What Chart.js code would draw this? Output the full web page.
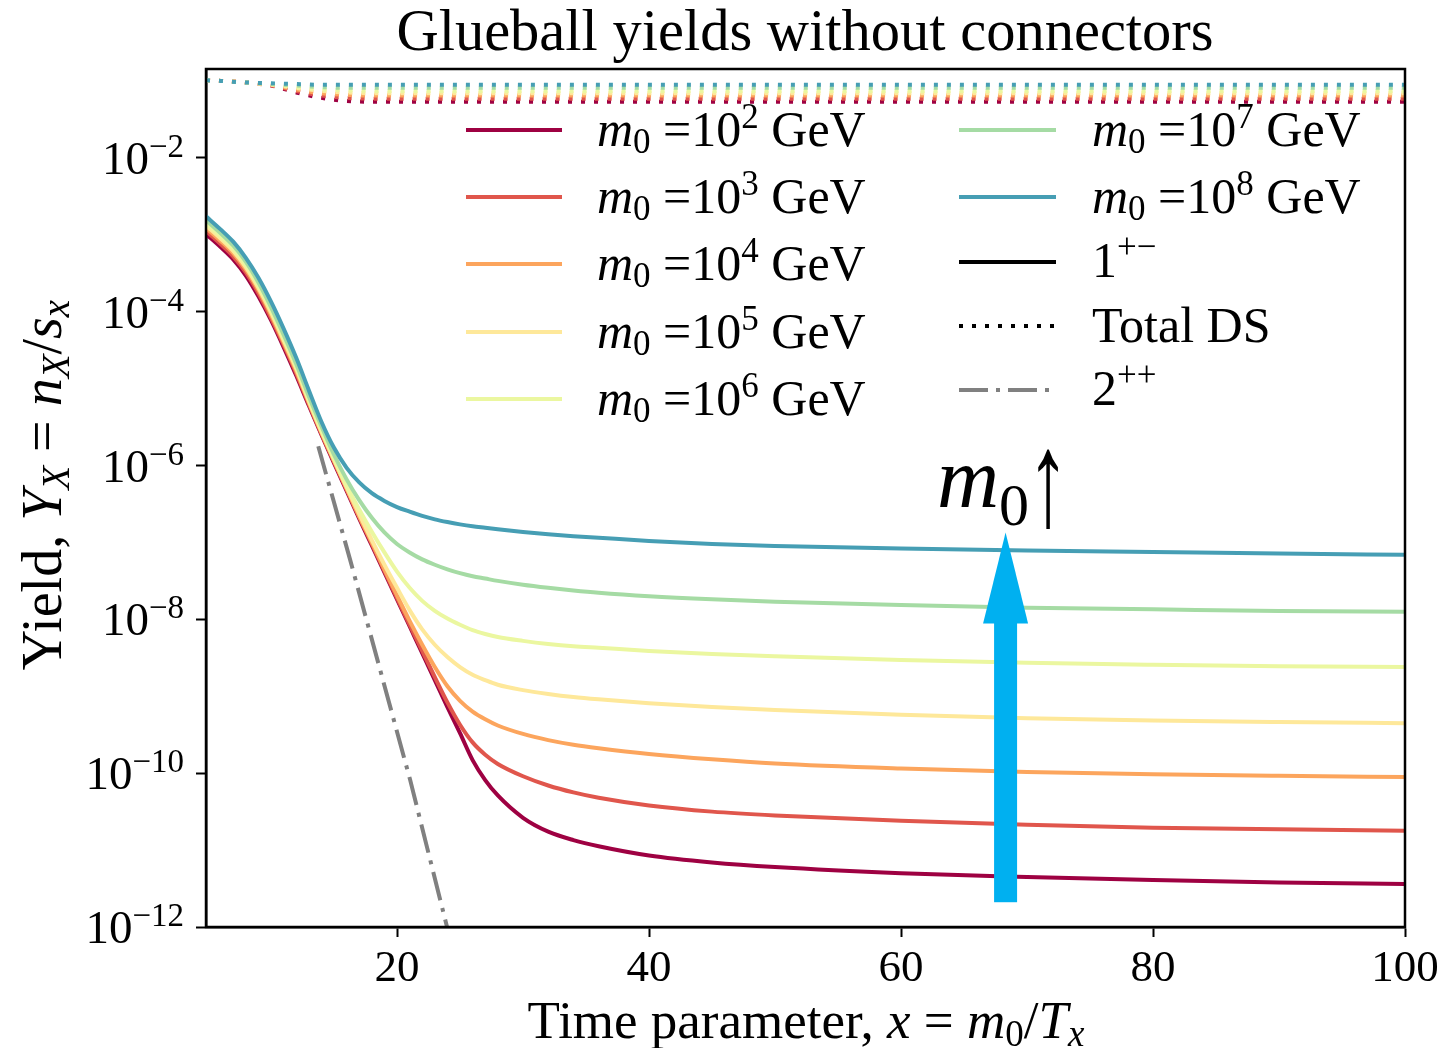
<!DOCTYPE html>
<html>
<head>
<meta charset="utf-8">
<title>Glueball yields without connectors</title>
<script src="https://cdn.jsdelivr.net/npm/chart.js@4.4.1/dist/chart.umd.min.js"></script>
<style>
  html, body { margin: 0; padding: 0; background: #fff; }
  canvas { display: block; }
</style>
</head>
<body>
<canvas id="mycanvas" width="1454" height="1048"></canvas>
<script>
// axis ranges and ticks
var x_min = 4.84, x_max = 100;
var y_min = 1e-12, y_max = 0.143;
var x_ticks = [20, 40, 60, 80, 100];
var y_ticks = [1e-12, 1e-10, 1e-8, 1e-6, 1e-4, 1e-2];
var y_tick_exps = ['\u221212', '\u221210', '\u22128', '\u22126', '\u22124', '\u22122'];

// one entry per glueball mass m0 = 10^n GeV
var m0_exps = ['2', '3', '4', '5', '6', '7', '8'];
var m0_colors = ['#9e0142', '#e0564c', '#fca55d', '#fee89a', '#ebf7a0', '#a5dba4', '#469eb4'];

// x = m0/T_x where the 1+- yields are sampled
var x_vals = [4.84, 6, 7, 8, 9, 10, 11, 12, 13, 14, 15, 16, 17, 18, 19, 20, 21, 22, 23, 24, 25,
              26, 27, 28, 30, 32, 34, 36, 40, 45, 50, 60, 70, 80, 90, 100];

// log10 of the 1+- yield Y_X
var log_y_1e2 = [-2.99, -3.16, -3.32, -3.53, -3.80, -4.11, -4.46, -4.83, -5.22, -5.60, -5.97, -6.33, -6.69, -7.04, -7.39, -7.74, -8.09, -8.44, -8.79, -9.14, -9.48,
                 -9.83, -10.09, -10.29, -10.58, -10.76, -10.87, -10.95, -11.07, -11.16, -11.22, -11.30, -11.35, -11.39, -11.42, -11.44];
var log_y_1e3 = [-2.95, -3.12, -3.28, -3.49, -3.76, -4.08, -4.43, -4.80, -5.20, -5.585, -5.95, -6.31, -6.67, -7.02, -7.37, -7.72, -8.07, -8.41, -8.75, -9.08, -9.37,
                 -9.60, -9.76, -9.88, -10.04, -10.16, -10.25, -10.32, -10.42, -10.50, -10.55, -10.62, -10.67, -10.71, -10.73, -10.75];
var log_y_1e4 = [-2.91, -3.08, -3.24, -3.45, -3.72, -4.04, -4.40, -4.77, -5.18, -5.57, -5.94, -6.30, -6.66, -7.00, -7.35, -7.69, -8.02, -8.33, -8.62, -8.87, -9.06,
                 -9.20, -9.30, -9.38, -9.49, -9.57, -9.63, -9.675, -9.75, -9.82, -9.875, -9.94, -9.985, -10.015, -10.035, -10.05];
var log_y_1e5 = [-2.88, -3.05, -3.21, -3.42, -3.69, -4.01, -4.37, -4.74, -5.16, -5.555, -5.92, -6.28, -6.63, -6.97, -7.29, -7.59, -7.88, -8.13, -8.33, -8.49, -8.62,
                 -8.72, -8.79, -8.85, -8.92, -8.97, -9.01, -9.04, -9.09, -9.14, -9.18, -9.24, -9.285, -9.315, -9.335, -9.35];
var log_y_1e6 = [-2.85, -3.02, -3.18, -3.39, -3.66, -3.98, -4.34, -4.71, -5.14, -5.54, -5.91, -6.26, -6.57, -6.86, -7.13, -7.38, -7.59, -7.76, -7.89, -7.99, -8.07,
                 -8.14, -8.19, -8.23, -8.28, -8.32, -8.35, -8.37, -8.41, -8.45, -8.48, -8.53, -8.565, -8.59, -8.61, -8.62];
var log_y_1e7 = [-2.81, -2.98, -3.14, -3.35, -3.62, -3.94, -4.30, -4.68, -5.10, -5.49, -5.86, -6.18, -6.45, -6.68, -6.87, -7.02, -7.13, -7.22, -7.29, -7.35, -7.40,
                 -7.44, -7.47, -7.50, -7.55, -7.59, -7.625, -7.655, -7.70, -7.74, -7.77, -7.815, -7.85, -7.87, -7.89, -7.90];
var log_y_1e8 = [-2.76, -2.93, -3.09, -3.30, -3.56, -3.87, -4.22, -4.60, -5.02, -5.43, -5.77, -6.03, -6.22, -6.36, -6.46, -6.54, -6.60, -6.655, -6.70, -6.735, -6.765,
                 -6.79, -6.81, -6.83, -6.865, -6.895, -6.92, -6.94, -6.98, -7.02, -7.045, -7.08, -7.105, -7.125, -7.145, -7.16];

// total dark sector yield (dotted)
var x_total = [4.84, 6, 8, 10, 12, 14, 16, 18, 20, 30, 40, 60, 80, 100];
var log_total_1e2 = [-0.99, -1.00, -1.02, -1.06, -1.15, -1.22, -1.26, -1.27, -1.27, -1.27, -1.27, -1.27, -1.27, -1.27];
var log_total_1e3 = [-0.99, -1.00, -1.02, -1.06, -1.13, -1.19, -1.22, -1.23, -1.23, -1.23, -1.23, -1.23, -1.23, -1.23];
var log_total_1e4 = [-0.99, -1.00, -1.02, -1.05, -1.11, -1.16, -1.18, -1.19, -1.19, -1.19, -1.19, -1.19, -1.19, -1.19];
var log_total_1e5 = [-0.99, -1.00, -1.02, -1.05, -1.09, -1.13, -1.15, -1.16, -1.16, -1.16, -1.16, -1.16, -1.16, -1.16];
var log_total_1e6 = [-0.99, -1.00, -1.02, -1.04, -1.08, -1.11, -1.12, -1.13, -1.13, -1.13, -1.13, -1.13, -1.13, -1.13];
var log_total_1e7 = [-0.99, -1.00, -1.02, -1.04, -1.06, -1.08, -1.09, -1.09, -1.09, -1.09, -1.09, -1.09, -1.09, -1.09];
var log_total_1e8 = [-0.99, -1.00, -1.02, -1.03, -1.04, -1.05, -1.05, -1.05, -1.05, -1.05, -1.05, -1.05, -1.05, -1.05];

// 2++ yield (same for every m0)
var x_2pp = [13.75, 16.27, 21.03, 23.97, 25.0];
var log_y_2pp = [-5.75, -7.22, -10.08, -12.0, -12.7];

// "m0 grows" arrow, in data units
var arrow_x = 68.3, arrow_from = 2.1e-12, arrow_neck = 9.1e-9, arrow_tip = 1.35e-7;

var log_1pm = [log_y_1e2, log_y_1e3, log_y_1e4, log_y_1e5, log_y_1e6, log_y_1e7, log_y_1e8];
var log_total = [log_total_1e2, log_total_1e3, log_total_1e4, log_total_1e5, log_total_1e6, log_total_1e7, log_total_1e8];

var SERIF = "'Liberation Serif', 'DejaVu Serif', serif";

function pts(xs, logs) {
    return xs.map(function (x, i) { return { x: x, y: Math.pow(10, logs[i]) }; });
}

var datasets = [];
for (var i = 0; i < m0_exps.length; i++) {
    datasets.push({
        data: pts(x_vals, log_1pm[i]),
        borderColor: m0_colors[i],
        borderWidth: 4,
        cubicInterpolationMode: 'monotone'
    });
    datasets.push({
        data: pts(x_total, log_total[i]),
        borderColor: m0_colors[i],
        borderWidth: 4,
        borderDash: [4, 9],
        borderCapStyle: 'butt',
        cubicInterpolationMode: 'monotone'
    });
}
datasets.push({
    data: pts(x_2pp, log_y_2pp),
    borderColor: '#808080',
    borderWidth: 4,
    borderDash: [29, 8, 4, 8],
    borderCapStyle: 'butt'
});
// chart.js paints the first dataset last -> flip so heavy m0 ends up on top
datasets.reverse();

// text made of runs: [text, size, italic, dy]
function runsWidth(ctx, runs) {
    var w = 0;
    runs.forEach(function (r) {
        ctx.font = (r[2] ? 'italic ' : '') + r[1] + 'px ' + SERIF;
        w += ctx.measureText(r[0]).width;
    });
    return w;
}
function drawRuns(ctx, x, y, runs, align) {
    var w = runsWidth(ctx, runs);
    var cx = align === 'center' ? x - w / 2 : (align === 'right' ? x - w : x);
    ctx.textAlign = 'left';
    ctx.textBaseline = 'alphabetic';
    runs.forEach(function (r) {
        ctx.font = (r[2] ? 'italic ' : '') + r[1] + 'px ' + SERIF;
        ctx.fillText(r[0], cx, y + (r[3] || 0));
        cx += ctx.measureText(r[0]).width;
    });
}

function legendLine(ctx, x0, x1, y, color, dash) {
    ctx.save();
    ctx.strokeStyle = color;
    ctx.lineWidth = 4;
    ctx.lineCap = 'butt';
    ctx.setLineDash(dash || []);
    ctx.beginPath();
    ctx.moveTo(x0, y);
    ctx.lineTo(x1, y);
    ctx.stroke();
    ctx.restore();
}

var decorations = {
    id: 'decorations',
    afterDatasetsDraw: function (chart) {
        var ctx = chart.ctx, area = chart.chartArea;
        var xs = chart.scales.x, ys = chart.scales.y;
        ctx.save();

        // big blue arrow
        var ax = xs.getPixelForValue(arrow_x);
        var yb = ys.getPixelForValue(arrow_from);
        var yn = ys.getPixelForValue(arrow_neck);
        var yt = ys.getPixelForValue(arrow_tip);
        ctx.fillStyle = '#00b0f0';
        ctx.fillRect(ax - 11.5, yn, 23, yb - yn);
        ctx.beginPath();
        ctx.moveTo(ax - 22.5, yn + 1);
        ctx.lineTo(ax + 22.5, yn + 1);
        ctx.lineTo(ax, yt);
        ctx.closePath();
        ctx.fill();

        // frame
        ctx.strokeStyle = '#000';
        ctx.lineWidth = 2.5;
        ctx.strokeRect(area.left, area.top, area.right - area.left, area.bottom - area.top);

        ctx.fillStyle = '#000';
        // y tick labels 10^n
        y_ticks.forEach(function (v, k) {
            var py = ys.getPixelForValue(v);
            drawRuns(ctx, 184, py + 16, [['10', 47], [y_tick_exps[k], 33, false, -17]], 'right');
        });

        // legend
        var rowL = [130, 197, 264, 332, 399];
        var rowR = [130, 197, 262, 326, 390];
        for (var k = 0; k < 7; k++) {
            var left = k < 5;
            var ly = left ? rowL[k] : rowR[k - 5];
            var lx0 = left ? 466 : 959, lx1 = left ? 562 : 1056, tx = left ? 597 : 1092;
            legendLine(ctx, lx0, lx1, ly, m0_colors[k]);
            drawRuns(ctx, tx, ly + 16, [['m', 50, true], ['0', 35, false, 7], [' =10', 50], [m0_exps[k], 35, false, -18], [' GeV', 50]]);
        }
        legendLine(ctx, 959, 1056, rowR[2], '#000');
        drawRuns(ctx, 1092, rowR[2] + 15, [['1', 50], ['+\u2212', 35, false, -19]]);
        legendLine(ctx, 959, 1056, rowR[3], '#000', [4, 9]);
        drawRuns(ctx, 1092, rowR[3] + 16, [['Total DS', 50]]);
        legendLine(ctx, 959, 1056, rowR[4], '#808080', [29, 8, 4, 8]);
        drawRuns(ctx, 1092, rowR[4] + 15, [['2', 50], ['++', 35, false, -19]]);

        // m0 annotation above the arrow
        drawRuns(ctx, 937, 507, [['m', 86, true], ['0', 60, false, 18]]);
        ctx.save();
        ctx.translate(1027, 525);
        ctx.scale(1, 1.6);
        drawRuns(ctx, 0, 0, [['\u2191', 84]]);
        ctx.restore();

        // title and axis titles
        drawRuns(ctx, 805, 50, [['Glueball yields without connectors', 58.5]], 'center');
        drawRuns(ctx, 806, 1038, [['Time parameter, ', 53], ['x', 53, true], [' = ', 53], ['m', 53, true],
            ['0', 37, false, 8], ['/', 53], ['T', 53, true], ['x', 37, true, 8]], 'center');

        ctx.translate(61, 485);
        ctx.rotate(-Math.PI / 2);
        drawRuns(ctx, 0, 0, [['Yield, ', 56], ['Y', 56, true], ['X', 39, true, 8], [' = ', 56], ['n', 56, true],
            ['X', 39, true, 8], ['/', 56], ['s', 56, true], ['x', 39, true, 8]], 'center');
        ctx.restore();
    }
};

var ctx = document.getElementById('mycanvas');
var chart = new Chart(ctx, {
    type: 'line',
    data: { datasets: datasets },
    options: {
        responsive: false,
        animation: false,
        devicePixelRatio: 1,
        events: [],
        layout: { padding: { top: 69, right: 49, left: 0, bottom: 0 } },
        elements: { point: { radius: 0 }, line: { fill: false } },
        plugins: { legend: { display: false }, tooltip: { enabled: false } },
        scales: {
            x: {
                type: 'linear',
                min: x_min,
                max: x_max,
                afterBuildTicks: function (s) { s.ticks = x_ticks.map(function (v) { return { value: v }; }); },
                afterFit: function (s) { s.height = 121; },
                grid: { drawOnChartArea: false, drawTicks: true, tickLength: 10, tickWidth: 2, tickColor: '#000' },
                border: { display: true, color: '#000', width: 2.5 },
                ticks: { color: '#000', padding: 5, maxRotation: 0, autoSkip: false, font: { family: SERIF, size: 45 } }
            },
            y: {
                type: 'logarithmic',
                min: y_min,
                max: y_max,
                afterBuildTicks: function (s) { s.ticks = y_ticks.map(function (v) { return { value: v }; }); },
                afterFit: function (s) { s.width = 206; },
                grid: { drawOnChartArea: false, drawTicks: true, tickLength: 10, tickWidth: 2, tickColor: '#000' },
                border: { display: true, color: '#000', width: 2.5 },
                ticks: { display: false }
            }
        }
    },
    plugins: [decorations]
});
</script>
</body>
</html>
